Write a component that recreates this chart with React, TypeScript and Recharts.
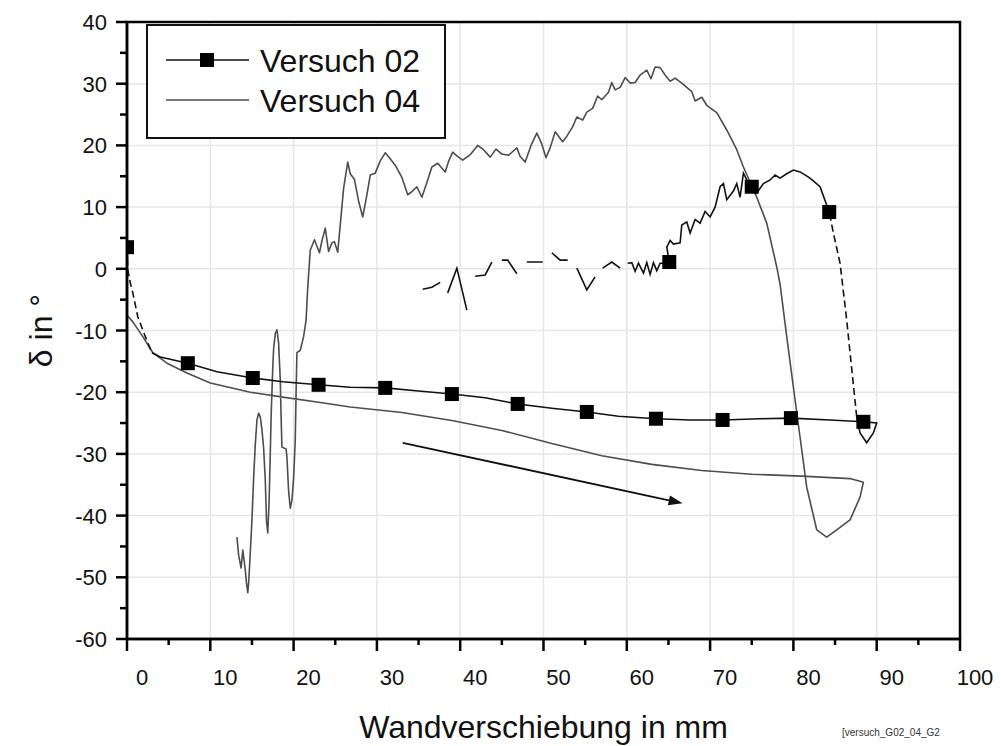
import React from "react";
import {
  ComposedChart,
  Line,
  Scatter,
  XAxis,
  YAxis,
  CartesianGrid,
  ReferenceArea,
  ReferenceLine,
  Legend,
  Label,
} from "recharts";

const FONT = '"Liberation Sans", Arial, sans-serif';

// axis ticks (majors get a label, minors only a short tick)
const xTicks = [0, 5, 10, 15, 20, 25, 30, 35, 40, 45, 50, 55, 60, 65, 70, 75, 80, 85, 90, 95, 100];
const yTicks = [-60, -55, -50, -45, -40, -35, -30, -25, -20, -15, -10, -5, 0, 5, 10, 15, 20, 25, 30, 35, 40];
const xMajor = [0, 10, 20, 30, 40, 50, 60, 70, 80, 90, 100];
const yMajor = [-60, -50, -40, -30, -20, -10, 0, 10, 20, 30, 40];

const seriesNames = ["Versuch 02", "Versuch 04"];

type Pair = [number, number | null];

// Versuch 04: runs right along the bottom, drops, climbs to the peak and goes back left
const v04: Pair[] = [
  [0, -7.5], [0.7, -8.6], [1.9, -11], [3.1, -13.6], [4.8, -15.3], [7.2, -16.9], [10, -18.5],
  [14.8, -20], [18.7, -20.8], [22.8, -21.6], [26.8, -22.4], [33, -23.3], [39, -24.6], [45, -26.2],
  [51, -28.3], [57, -30.3], [63, -31.7], [69, -32.7], [75, -33.3], [81, -33.6], [86.8, -34],
  [88.4, -34.6], [88, -37], [86.8, -40.7], [85.2, -42.3], [84, -43.5], [82.8, -42.3], [81.6, -35.4],
  [80.8, -27.3], [80, -19.2], [79.2, -11], [78.4, -2.5], [78, 0.3], [76.8, 7.4], [75.6, 11.6],
  [74, 16.5], [73.2, 19.3], [72, 22.5], [70.8, 25.3], [69.6, 26.5], [69, 27.8], [68.2, 27.2],
  [67.8, 28.7], [67.2, 29.4], [66.6, 30.1], [65.8, 30.9], [65.2, 30.4], [64.6, 31.4], [64, 32.6],
  [63.4, 32.7], [62.9, 30.8], [62.4, 32.2], [61.6, 31.4], [61, 30.2], [60.4, 30.1], [59.8, 31],
  [59.2, 29.4], [58.6, 29], [58.2, 30.2], [57.8, 28.6], [57, 27.4], [56.5, 28], [55.9, 26],
  [55.2, 25.4], [54.7, 24.1], [54, 24.6], [53.5, 23], [52.8, 21.5], [52.3, 20.6], [51.4, 22.2],
  [50.8, 19.6], [50.3, 18], [49.8, 20.2], [49.2, 22], [48.5, 20], [47.8, 17.3], [47.2, 18.2],
  [46.8, 19.6], [45.8, 18.4], [45, 18.6], [44.3, 19.4], [43.6, 18.1], [42.8, 19.3], [42.1, 20],
  [41.2, 18.5], [40.3, 17.6], [39.6, 18.3], [39.1, 18.9], [38.6, 17.4], [38.2, 15.7], [37.3, 17.1],
  [36.6, 16.5], [36, 14], [35.4, 11.6], [34.8, 13.3], [34.2, 12.5], [33.7, 12], [33, 14.8],
  [32.2, 16.8], [31.5, 18], [31, 18.8], [30.4, 17.5], [29.8, 15.5], [29.2, 15.2], [28.8, 12],
  [28.3, 8.4], [27.8, 11], [27.3, 14.5], [26.8, 15.4], [26.5, 17.3], [26, 13], [25.3, 2.7],
  [24.9, 4.4], [24.6, 4.2], [24.2, 2.8], [23.8, 6.6], [23.4, 4.5], [23.1, 2.6], [22.5, 4.7],
  [22, 3], [21.7, -3], [21.5, -8.3], [21.2, -11], [20.8, -13.2], [20.4, -13.6], [20.3, -20],
  [20.2, -27.7], [20, -34], [19.8, -37.5], [19.6, -38.8], [19.4, -36], [19.2, -30.5], [19.1, -29.2],
  [18.6, -28.9], [18.5, -24], [18.4, -18], [18.2, -12], [18, -9.9], [17.8, -10.5], [17.6, -13],
  [17.5, -16], [17.3, -24], [17.2, -30], [17.05, -38], [16.9, -42.8], [16.75, -41], [16.6, -34.2],
  [16.4, -29], [16.2, -26.1], [16, -24], [15.8, -23.4], [15.6, -24.5], [15.4, -28.5], [15.2, -34],
  [15, -40.7], [14.8, -46], [14.6, -51], [14.5, -52.5], [14.35, -51], [14.2, -48.8], [13.9, -45.6],
  [13.7, -48.5], [13.4, -46.4], [13.2, -43.5],
];

// Versuch 02, solid parts (null = gap)
const v02Solid: Pair[] = [
  [3, -13.6], [4, -14.3], [7.3, -15.3], [10.8, -16.7], [15.1, -17.7], [18.7, -18.3], [23, -18.8],
  [26.8, -19.2], [31, -19.3], [35, -19.8], [39, -20.3], [43, -20.9], [46.9, -21.9], [51, -22.6],
  [55.2, -23.2], [59, -23.9], [63.5, -24.3], [67.6, -24.5], [71.5, -24.5], [76, -24.3], [79.7, -24.2],
  [84.4, -24.5], [88.4, -24.8], [90, -25], [89.6, -26.6], [88.8, -28.2], [88, -26.6], [87.6, -24],
  [86, null],
  [84.3, 9.2], [83.2, 13.3], [82, 14.7], [80.8, 15.7], [80, 16], [79.2, 15.4], [78.4, 14.7],
  [77.8, 15.2], [77.2, 14.4], [76.4, 13.8], [75.6, 12.3], [75, 13.3], [74.4, 14.4], [74, 15.5],
  [73.6, 11.6], [73.2, 13.8], [72.8, 12.6], [72, 11.2], [71.6, 13.8], [71.2, 13.3], [70.6, 10],
  [70, 8.4], [69.4, 9.3], [68.8, 7.4], [68.2, 8], [67.6, 5.8], [67.2, 7.6], [66.6, 7.1], [66.4, 4.2],
  [65.6, 4], [65.2, 4.6], [64.8, 3.5], [65.1, 1.1], [64.4, 0.9], [64, 0.9], [63.6, -0.3], [63.2, 1],
  [62.8, -0.9], [62.4, 1], [62, -0.7], [61.4, 0.9], [61, -0.4], [60.6, 1], [60.1, 0.9],
  [59.6, null],
  [59.2, 0.1], [58.2, 1.1], [57.1, 0.1],
  [56.6, null],
  [56.2, -1.3], [55.2, -3.4], [54, 0.1],
  [53.4, null],
  [52.9, 1.4], [52, 1.4], [51, 2.6],
  [50.4, null],
  [49.9, 1.1], [48, 1.1],
  [47.4, null],
  [46.8, -0.8], [45.7, 1.4], [45, 1.4],
  [44.4, null],
  [43.8, 1.1], [43, -1], [41.8, -1.2],
  [41.3, null],
  [40.8, -6.7], [39.6, 0.1], [38.5, -3.9],
  [38, null],
  [37.6, -2.2], [36.6, -3], [35.5, -3.3],
];

// Versuch 02, dashed parts
const v02Dashed: Pair[] = [
  [0, 3.5], [0.1, -0.2], [0.4, -2.3], [0.7, -3.9], [1.3, -7.8], [2.2, -11], [3, -13.6],
  [40, null],
  [87.6, -24], [86.8, -13.6], [86.4, -8.3], [85.6, 0.9], [84.8, 5.8], [84.3, 9.2],
];

const markers02: Pair[] = [
  [0, 3.5], [7.3, -15.3], [15.1, -17.7], [23, -18.8], [31, -19.3], [39, -20.3], [46.9, -21.9],
  [55.2, -23.2], [63.5, -24.3], [71.5, -24.5], [79.7, -24.2], [88.4, -24.8], [84.3, 9.2],
  [75, 13.3], [65.1, 1.1],
];

// direction arrow (start, end)
const arrow = [
  { x: 33.1, y: -28.2 },
  { x: 66.7, y: -38.0 },
];

const toPts = (arr: Pair[]) => arr.map(([x, y]) => ({ x, y }));

const XTick = (props: any) => {
  const { x, y, payload } = props;
  const major = payload.value % 10 === 0;
  return (
    <g>
      <line x1={x} x2={x} y1={y} y2={y + (major ? 12 : 6)} stroke="#000" strokeWidth={2.5} />
      {major && (
        <text x={x + 15} y={y + 46} textAnchor="middle" fontFamily={FONT} fontSize={22} fill="#111">
          {payload.value}
        </text>
      )}
    </g>
  );
};

const YTick = (props: any) => {
  const { x, y, payload } = props;
  const major = payload.value % 10 === 0;
  return (
    <g>
      <line x1={x - (major ? 11 : 7)} x2={x} y1={y} y2={y} stroke="#000" strokeWidth={2.5} />
      {major && (
        <text x={x - 20} y={y + 8} textAnchor="end" fontFamily={FONT} fontSize={22} fill="#111">
          {payload.value}
        </text>
      )}
    </g>
  );
};

const Square = (props: any) => {
  const { cx, cy } = props;
  if (cx == null || cy == null) return null;
  return <rect x={cx - 7} y={cy - 7} width={14} height={14} fill="#000" />;
};

const Arrow = (props: any) => {
  const { x1, y1, x2, y2 } = props;
  const a = Math.atan2(y2 - y1, x2 - x1);
  const L = 14;
  const W = 5;
  const bx = x2 - L * Math.cos(a);
  const by = y2 - L * Math.sin(a);
  const pts = `${x2},${y2} ${bx - W * Math.sin(a)},${by + W * Math.cos(a)} ${bx + W * Math.sin(a)},${by - W * Math.cos(a)}`;
  return (
    <g>
      <line x1={x1} y1={y1} x2={bx} y2={by} stroke="#111" strokeWidth={1.8} />
      <polygon points={pts} fill="#111" />
    </g>
  );
};

const renderLegend = () => (
  <svg width={300} height={115} style={{ display: "block" }}>
    <rect x={1} y={1} width={298} height={113} fill="#fff" stroke="#111" strokeWidth={2} />
    <line x1={20} x2={103} y1={36} y2={36} stroke="#111" strokeWidth={1.5} />
    <rect x={54} y={29} width={14} height={14} fill="#000" />
    <text x={114} y={47.5} fontFamily={FONT} fontSize={32} fill="#111">
      {seriesNames[0]}
    </text>
    <line x1={20} x2={103} y1={76} y2={76} stroke="#4d4d4d" strokeWidth={1.5} />
    <text x={114} y={87.5} fontFamily={FONT} fontSize={32} fill="#111">
      {seriesNames[1]}
    </text>
  </svg>
);

export default function App() {
  return (
    <div style={{ position: "absolute", left: 0, top: 0, width: 1001, height: 746, background: "#fff" }}>
      <ComposedChart width={1001} height={746} margin={{ top: 22, right: 41, bottom: 47, left: 67 }}>
        <CartesianGrid
          stroke="#e6e6e6"
          strokeWidth={1.5}
          horizontalValues={yMajor}
          verticalValues={xMajor}
        />
        <XAxis
          type="number"
          dataKey="x"
          domain={[0, 100]}
          ticks={xTicks}
          interval={0}
          tickSize={0}
          tickMargin={0}
          tick={<XTick />}
          tickLine={false}
          axisLine={{ stroke: "#000", strokeWidth: 2.5 }}
          height={60}
          allowDataOverflow
        >
          <Label
            content={({ viewBox }: any) => (
              <text
                x={viewBox.x + viewBox.width / 2}
                y={viewBox.y + 99}
                textAnchor="middle"
                fontFamily={FONT}
                fontSize={32}
                fill="#111"
              >
                Wandverschiebung in mm
              </text>
            )}
          />
        </XAxis>
        <YAxis
          type="number"
          domain={[-60, 40]}
          ticks={yTicks}
          interval={0}
          tickSize={0}
          tickMargin={0}
          tick={<YTick />}
          tickLine={false}
          axisLine={{ stroke: "#000", strokeWidth: 2.5 }}
          width={60}
          allowDataOverflow
        >
          <Label
            content={({ viewBox }: any) => {
              const cx = 52;
              const cy = viewBox.y + viewBox.height / 2;
              return (
                <text
                  x={cx}
                  y={cy}
                  textAnchor="middle"
                  transform={`rotate(-90, ${cx}, ${cy})`}
                  fontFamily={FONT}
                  fontSize={32}
                  fill="#111"
                >
                  δ in °
                </text>
              );
            }}
          />
        </YAxis>
        <Line
          data={toPts(v04)}
          dataKey="y"
          type="linear"
          stroke="#4d4d4d"
          strokeWidth={1.6}
          strokeLinejoin="round"
          dot={false}
          activeDot={false}
          isAnimationActive={false}
          legendType="none"
        />
        <Line
          data={toPts(v02Solid)}
          dataKey="y"
          type="linear"
          stroke="#111"
          strokeWidth={1.6}
          dot={false}
          activeDot={false}
          isAnimationActive={false}
          legendType="none"
        />
        <Line
          data={toPts(v02Dashed)}
          dataKey="y"
          type="linear"
          stroke="#111"
          strokeWidth={1.6}
          strokeDasharray="7 4"
          dot={false}
          activeDot={false}
          isAnimationActive={false}
          legendType="none"
        />
        <Scatter
          data={toPts(markers02)}
          dataKey="y"
          shape={<Square />}
          isAnimationActive={false}
          legendType="none"
        />
        <ReferenceLine segment={arrow} ifOverflow="visible" shape={<Arrow />} />
        <ReferenceArea
          x1={0}
          x2={100}
          y1={-60}
          y2={40}
          fill="none"
          stroke="#000"
          strokeWidth={2.5}
          ifOverflow="visible"
        />
        <Legend
          layout="vertical"
          align="center"
          verticalAlign="middle"
          content={renderLegend}
          wrapperStyle={{ left: 146, top: 24, width: 300, height: 115 }}
        />
      </ComposedChart>
      <div
        style={{
          position: "absolute",
          left: 842,
          top: 727,
          fontFamily: FONT,
          fontSize: 10,
          color: "#333",
          whiteSpace: "nowrap",
        }}
      >
        [versuch_G02_04_G2
      </div>
    </div>
  );
}
